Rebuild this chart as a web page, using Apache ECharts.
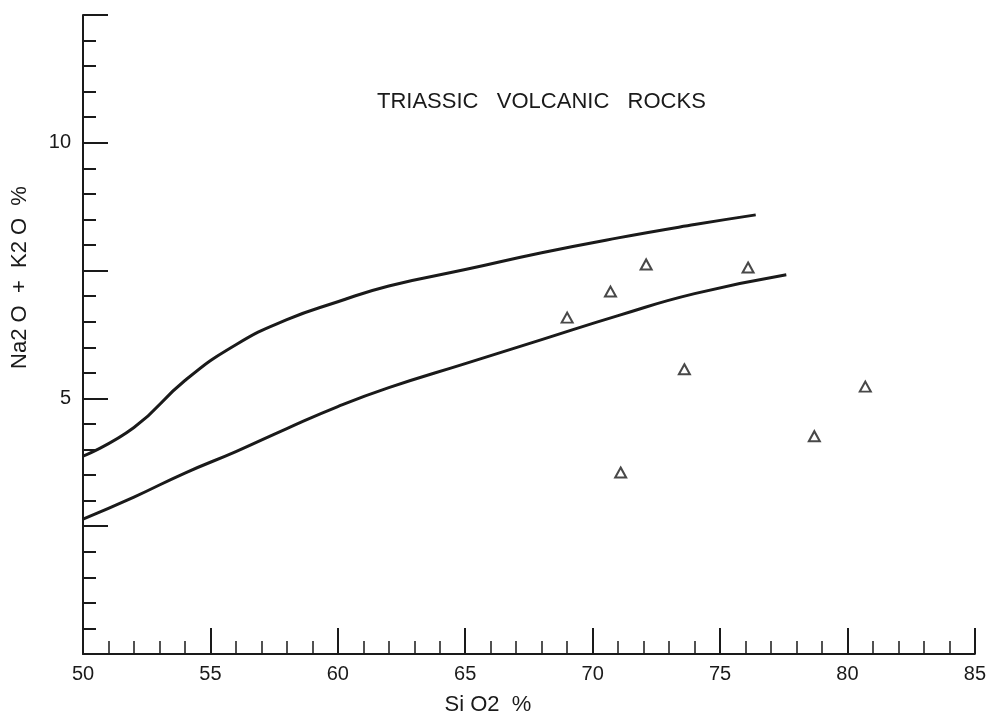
<!DOCTYPE html>
<html>
<head>
    <title>Triassic Volcanic Rocks</title>
    <meta http-equiv="Content-type" content="text/html; charset=utf-8">
    <script src="https://cdn.jsdelivr.net/npm/echarts@6/dist/echarts.min.js"></script>
    <style>
        html, body { margin: 0; padding: 0; background: #fff; }
        #container { width: 989px; height: 721px; }
    </style>
</head>
<body>
<div id="container"></div>
<script type="text/javascript">
// upper boundary curve [SiO2, Na2O+K2O]
var upperX = [50, 52, 54, 56, 58, 60, 62, 65, 68, 71, 74, 76.4];
var upperY = [3.87, 4.43, 5.35, 6.05, 6.54, 6.89, 7.2, 7.52, 7.85, 8.14, 8.4, 8.59];
// lower boundary curve
var lowerX = [50, 52, 54, 56, 58, 60, 62, 65, 68, 71, 74, 77.6];
var lowerY = [2.64, 3.07, 3.54, 3.96, 4.41, 4.84, 5.21, 5.68, 6.15, 6.62, 7.05, 7.42];
// samples (triangles)
var sampleSiO2 = [69.0, 70.7, 72.1, 76.1, 73.6, 71.1, 78.7, 80.7];
var sampleAlk  = [6.58, 7.09, 7.62, 7.56, 5.57, 3.55, 4.26, 5.23];
var yLabels = [5, 10];

function pairs(xs, ys) {
    var out = [];
    for (var i = 0; i < xs.length; i++) out.push([xs[i], ys[i]]);
    return out;
}

var font = "'Liberation Sans', 'DejaVu Sans', sans-serif";
var ink = '#1a1a1a';

var myChart = echarts.init(document.getElementById('container'));
var option = {
    backgroundColor: '#fff',
    animation: false,
    grid: { left: 83, right: 9, top: 15, bottom: 66 },
    graphic: [{
        type: 'text',
        left: 377,
        top: 91,
        style: {
            text: 'TRIASSIC   VOLCANIC   ROCKS',
            font: '22px ' + font,
            fill: ink
        }
    }],
    xAxis: {
        type: 'value',
        min: 50,
        max: 85,
        interval: 5,
        name: 'Si O2  %',
        nameLocation: 'middle',
        nameGap: 40,
        nameTextStyle: { fontFamily: font, fontSize: 22, color: ink, padding: [0, 82, 0, 0] },
        axisLine: { lineStyle: { color: ink, width: 2 } },
        axisTick: { inside: true, length: 26, lineStyle: { color: ink, width: 2 } },
        minorTick: { show: true, splitNumber: 5, length: 13, lineStyle: { color: ink, width: 1.5 } },
        axisLabel: { fontFamily: font, fontSize: 20, color: ink, margin: 10 },
        splitLine: { show: false }
    },
    yAxis: {
        type: 'value',
        min: 0,
        max: 12.5,
        interval: 2.5,
        name: 'Na2 O  +  K2 O  %',
        nameLocation: 'middle',
        nameGap: 52,
        nameRotate: 90,
        nameTextStyle: { fontFamily: font, fontSize: 22, color: ink, padding: [0, 0, 0, 114] },
        axisLine: { lineStyle: { color: ink, width: 2 } },
        axisTick: { inside: true, length: 25, lineStyle: { color: ink, width: 2 } },
        minorTick: { show: true, splitNumber: 5, length: 13, lineStyle: { color: ink, width: 2 } },
        axisLabel: {
            fontFamily: font, fontSize: 20, color: ink, margin: 12,
            formatter: function (v) { return yLabels.indexOf(v) >= 0 ? String(v) : ''; }
        },
        splitLine: { show: false }
    },
    series: [
        {
            name: 'upper',
            type: 'line',
            data: pairs(upperX, upperY),
            smooth: 0.5,
            showSymbol: false,
            lineStyle: { color: ink, width: 3 }
        },
        {
            name: 'lower',
            type: 'line',
            data: pairs(lowerX, lowerY),
            smooth: 0.5,
            showSymbol: false,
            lineStyle: { color: ink, width: 3 }
        },
        {
            name: 'samples',
            type: 'scatter',
            data: pairs(sampleSiO2, sampleAlk),
            symbol: 'triangle',
            symbolSize: [11, 10],
            itemStyle: { color: '#fff', borderColor: ink, borderWidth: 2 }
        }
    ]
};
myChart.setOption(option);
</script>
</body>
</html>
